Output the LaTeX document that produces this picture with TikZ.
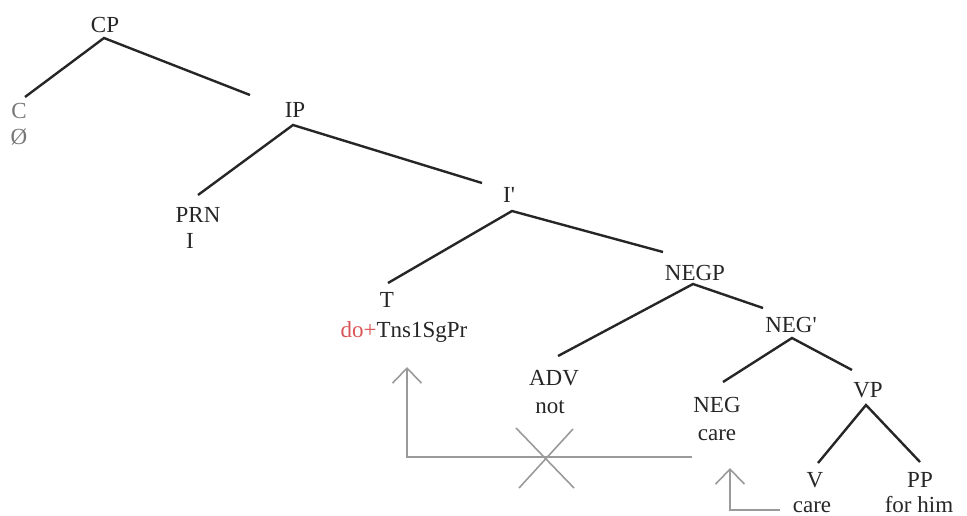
\documentclass[tikz,border=0pt]{standalone}
\usepackage{fontspec}
\setmainfont{Liberation Serif}[Ligatures=TeXOff]
\usetikzlibrary{arrows.meta}
\definecolor{ink}{HTML}{262626}
\definecolor{faded}{HTML}{777777}
\definecolor{movegray}{HTML}{9A9A9A}
\definecolor{dored}{HTML}{D95555}
\begin{document}
\begin{tikzpicture}[x=1pt,y=-1pt,
  lbl/.style={anchor=base,inner sep=0pt,text=ink,font=\fontsize{23}{27}\selectfont},
  branch/.style={line width=2.4pt,draw=ink},
  movepath/.style={line width=1.6pt,draw=movegray},
  movearrow/.style={movepath,-{Straight Barb[length=15pt,width=29pt,line width=1.6pt]}}]
\useasboundingbox (0,0) rectangle (967,515);
% labels
\node[lbl] (CP) at (105,32) {CP};
\node[lbl,text=faded] (C) at (19,118) {C};
\node[lbl,text=faded] (Cw) at (19,144) {Ø};
\node[lbl] (IP) at (295,117) {IP};
\node[lbl] (PRN) at (198,222) {PRN};
\node[lbl] (PRNw) at (190,248) {I};
\node[lbl] (Ib) at (509,202) {I'};
\node[lbl] (T) at (387,307) {T};
\node[lbl] (Tw) at (404,337) {\textcolor{dored}{do+}Tns1SgPr};
\node[lbl] (NEGP) at (695,280) {NEGP};
\node[lbl] (ADV) at (554,385) {ADV};
\node[lbl] (ADVw) at (550,413) {not};
\node[lbl] (NEGb) at (791,332) {NEG'};
\node[lbl] (NEG) at (717,412) {NEG};
\node[lbl] (NEGw) at (717,440) {care};
\node[lbl] (VP) at (868,397) {VP};
\node[lbl] (V) at (815,487) {V};
\node[lbl] (Vw) at (812,512) {care};
\node[lbl] (PP) at (920,487) {PP};
\node[lbl] (PPw) at (919,512) {for him};
% branch end points
\coordinate (cpA) at (104,38);
\coordinate (cT) at (25,97);
\coordinate (ipT) at (250,95);
\coordinate (ipA) at (293,125);
\coordinate (prnT) at (198,195);
\coordinate (ibT) at (482,183);
\coordinate (ibA) at (512,211);
\coordinate (tT) at (388,283);
\coordinate (negpT) at (663,252);
\coordinate (negpA) at (693,284);
\coordinate (advT) at (558,356);
\coordinate (negbT) at (763,308);
\coordinate (negbA) at (792,338);
\coordinate (negT) at (723,382);
\coordinate (vpT) at (852,370);
\coordinate (vpA) at (866,405);
\coordinate (vT) at (818,463);
\coordinate (ppT) at (920,462);
% branches
\draw[branch] (cT) -- (cpA) -- (ipT);
\draw[branch] (prnT) -- (ipA) -- (ibT);
\draw[branch] (tT) -- (ibA) -- (negpT);
\draw[branch] (advT) -- (negpA) -- (negbT);
\draw[branch] (negT) -- (negbA) -- (vpT);
\draw[branch] (vT) -- (vpA) -- (ppT);
% movement arrows
\coordinate (m1s) at (692,457);
\coordinate (m1c) at (407,457);
\coordinate (m1e) at (407,367);
\draw[movearrow] (m1s) -- (m1c) -- (m1e);
\coordinate (x1) at (516,428);
\coordinate (x2) at (574,488);
\coordinate (x3) at (573,429);
\coordinate (x4) at (519,488);
\draw[movepath] (x1) -- (x2);
\draw[movepath] (x3) -- (x4);
\coordinate (m2s) at (780,510);
\coordinate (m2c) at (730,510);
\coordinate (m2e) at (730,468);
\draw[movearrow] (m2s) -- (m2c) -- (m2e);
\end{tikzpicture}
\end{document}
